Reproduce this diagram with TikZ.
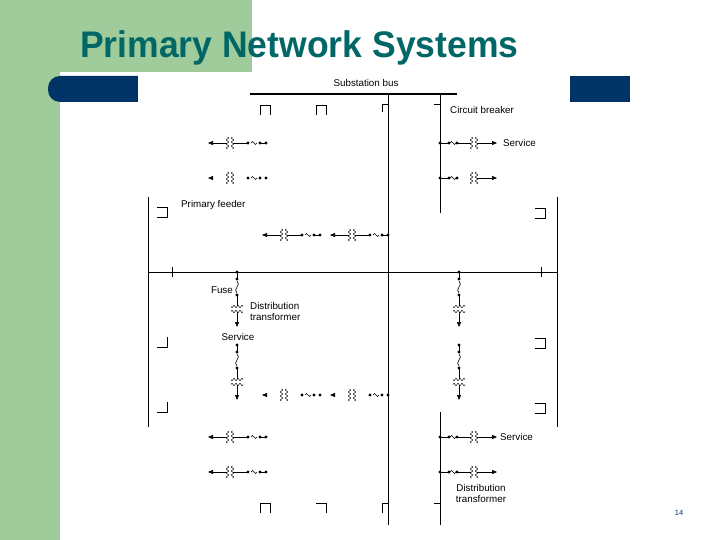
\documentclass[tikz,border=0pt]{standalone}
\usepackage{fontspec}
\setmainfont{Liberation Sans}
\usetikzlibrary{arrows.meta}
\definecolor{sgreen}{RGB}{159,204,154}
\definecolor{snavy}{RGB}{0,51,102}
\definecolor{steal}{RGB}{0,102,102}
\tikzset{
  wire/.style={line width=0.6pt},
  lbl/.style={font=\fontsize{9.8}{11}\selectfont, inner sep=0pt},
  tipL/.style={-{Triangle[length=5pt,width=4pt]}}
}
\newcommand\dotat[2]{\fill (#1,#2) circle[radius=1.6];}
\newcommand\coilV[2]{%
  \draw[line width=0.45pt,domain=0:12,samples=40,variable=\t] plot ({#1-2.5+1.2*sin(\t*90)},{#2-6+\t});
  \draw[line width=0.45pt,domain=0:12,samples=40,variable=\t] plot ({#1+2.5-1.2*sin(\t*90)},{#2-6+\t});}
\newcommand\coilH[2]{%
  \draw[line width=0.45pt,domain=0:12,samples=40,variable=\t] plot ({#1-6+\t},{#2-2.5+1.2*sin(\t*90)});
  \draw[line width=0.45pt,domain=0:12,samples=40,variable=\t] plot ({#1-6+\t},{#2+2.5-1.2*sin(\t*90)});}
\newcommand\fuseH[2]{\draw[wire] (#1-3,#2) .. controls (#1-1,#2-5) and (#1+1,#2+5) .. (#1+3,#2);}
\newcommand\fuseV[2]{\draw[wire] (#1,#2-6) .. controls (#1+5,#2-2) and (#1-5,#2+2) .. (#1,#2+6);}
\newcommand\latL[3]{%
  \dotat{#1}{#2}\dotat{#1-6}{#2}\fuseH{#1-12}{#2}\dotat{#1-18}{#2}\coilV{#1-36}{#2}
  \ifnum#3=1
    \draw[wire] (#1-6,#2)--(#1,#2); \draw[wire] (#1-18,#2)--(#1-33,#2);
    \draw[wire,tipL] (#1-39,#2)--(#1-58,#2);
  \else
    \draw[wire,tipL] (#1-55,#2)--(#1-58,#2);
  \fi}
\newcommand\latR[3]{%
  \dotat{#1}{#2}\dotat{#1+9}{#2}\fuseH{#1+13}{#2}\dotat{#1+17}{#2}\coilV{#1+34}{#2}
  \draw[wire] (#1,#2)--(#1+9,#2);
  \ifnum#3=1 \draw[wire] (#1+17,#2)--(#1+31,#2); \fi
  \draw[wire,tipL] (#1+37,#2)--(#1+57,#2);}
\newcommand\latD[2]{%
  \dotat{#1}{#2}\dotat{#1}{#2+7}\fuseV{#1}{#2+15}\dotat{#1}{#2+23}\coilH{#1}{#2+37}
  \draw[wire] (#1,#2)--(#1,#2+7); \draw[wire] (#1,#2+23)--(#1,#2+34);
  \draw[wire,tipL] (#1,#2+40)--(#1,#2+55);}
\begin{document}
\begin{tikzpicture}[x=1pt,y=-1pt]
\useasboundingbox (0,0) rectangle (720,540);
\fill[sgreen] (0,0) rectangle (60,540);
\fill[sgreen] (0,0) rectangle (252,72);
\fill[snavy, rounded corners=12pt] (48,76) rectangle (160,102);
\fill[snavy] (120,76) rectangle (630,102);
\fill[white] (138,72) rectangle (570,526);
\node[anchor=west, text=steal, font=\bfseries\fontsize{37}{39}\selectfont, inner sep=0pt, xscale=0.96] (title) at (80,48) {Primary Network Systems};
\node[text=snavy, font=\fontsize{7.5}{8}\selectfont] (pg) at (679,513) {14};
\draw[line width=1.6pt] (250,94) -- (457,94);
\node[lbl] (sb) at (366,83) {Substation bus};
\draw[wire] (388,94) -- (388,525);
\draw[wire] (440,94) -- (440,213);
\draw[wire] (440,412) -- (440,525);
\draw[wire] (148,272) -- (557,272);
\draw[wire] (172,267) -- (172,277);
\draw[wire] (541,267) -- (541,277);
\draw[wire] (148,197) -- (148,427);
\draw[wire] (557,197) -- (557,427);
\draw[wire] (260,115)--(260,105)--(270,105)--(270,115);
\draw[wire] (316,115)--(316,105)--(326,105)--(326,115);
\draw[wire] (382,112)--(382,104)--(388,104);
\draw[wire] (434,104)--(440,104);
\node[lbl, anchor=west] (cb) at (450,110) {Circuit breaker};
\draw[wire] (260,513)--(260,503)--(270,503)--(270,513);
\draw[wire] (316,503)--(326,503)--(326,513);
\draw[wire] (382,513)--(382,503)--(388,503);
\draw[wire] (434,503)--(440,503);
\draw[wire] (157,207)--(167,207)--(167,217)--(157,217);
\draw[wire] (535,208)--(545,208)--(545,218)--(535,218);
\draw[wire] (167,337)--(167,347)--(157,347);
\draw[wire] (535,338)--(545,338)--(545,348)--(535,348);
\draw[wire] (167,402)--(167,412)--(157,412);
\draw[wire] (535,403)--(545,403)--(545,413)--(535,413);
\node[lbl, anchor=west] (pf) at (181,205) {Primary feeder};
\latL{266}{143}{1}
\latL{266}{178}{0}
\latR{440}{143}{1}
\latR{440}{178}{0}
\node[lbl, anchor=west] (s1) at (503,143) {Service};
\latL{320}{235}{1}
\latL{388}{235}{1}
\latL{320}{395}{0}
\latL{388}{395}{0}
\latL{266}{437}{1}
\latL{266}{472}{1}
\latR{440}{437}{1}
\latR{440}{472}{1}
\node[lbl, anchor=west] (s2) at (500,437) {Service};
\node[lbl, align=center] (dt2) at (481,493) {Distribution\\transformer};
\latD{237}{272}
\latD{237}{345}
\latD{459}{272}
\latD{459}{345}
\node[lbl, anchor=east] (fu) at (233,290) {Fuse};
\node[lbl, anchor=west, align=left] (dt1) at (250,311) {Distribution\\transformer};
\node[lbl] (s3) at (238,337) {Service};
\end{tikzpicture}
\end{document}
